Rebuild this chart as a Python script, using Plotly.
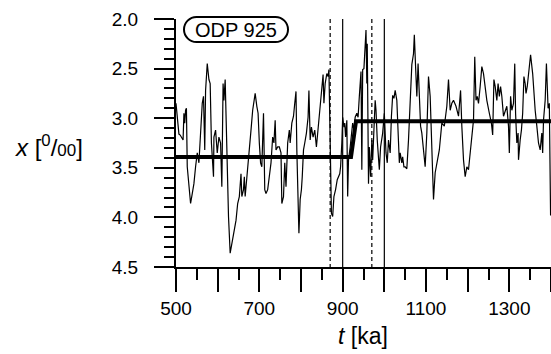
import plotly.graph_objects as go

# ---- data ----
t_ka = [500, 503, 507, 510, 513, 517, 519, 521, 523, 525, 527, 531, 535, 539, 543, 547, 551, 555, 559, 563,
        566, 569, 571, 575, 579, 582, 585, 587, 590, 591, 595, 599, 603, 607, 610, 613, 615, 618, 620, 623,
        626, 630, 635, 639, 644, 648, 652, 656, 658, 662, 664, 666, 670, 673, 676, 680, 684, 688, 690, 694,
        697, 700, 703, 706, 710, 713, 716, 720, 724, 728, 732, 735, 738, 740, 744, 748, 752, 754, 758, 761,
        764, 768, 772, 774, 778, 782, 785, 788, 790, 793, 795, 798, 801, 803, 806, 809, 813, 817, 819, 822,
        825, 829, 833, 837, 841, 845, 849, 853, 855, 858, 862, 865, 867, 870, 871, 873, 876, 879, 883, 887,
        893, 895, 898, 900, 903, 905, 907, 910, 912, 914, 918, 921, 924, 927, 930, 934, 937, 940, 942, 944,
        946, 948, 951, 954, 956, 958, 959, 962, 964, 967, 970, 972, 975, 978, 980, 983, 988, 991, 996, 1000,
        1004, 1007, 1010, 1014, 1017, 1020, 1023, 1026, 1030, 1034, 1036, 1038, 1042, 1044, 1047, 1050, 1054, 1058, 1060, 1063,
        1066, 1070, 1072, 1075, 1078, 1081, 1084, 1087, 1090, 1094, 1098, 1102, 1106, 1110, 1114, 1118, 1122, 1127, 1132, 1138,
        1144, 1150, 1154, 1158, 1162, 1166, 1172, 1178, 1183, 1186, 1190, 1194, 1198, 1202, 1206, 1210, 1214, 1217, 1220, 1223,
        1226, 1230, 1234, 1238, 1241, 1246, 1252, 1257, 1260, 1263, 1266, 1270, 1273, 1276, 1279, 1282, 1286, 1290, 1294, 1298,
        1300, 1303, 1306, 1310, 1313, 1315, 1318, 1321, 1322, 1326, 1329, 1332, 1335, 1338, 1340, 1343, 1348, 1351, 1356, 1359,
        1362, 1366, 1370, 1374, 1378, 1380, 1382, 1386, 1389, 1393, 1396, 1399]

x_permil = [2.85, 2.98, 3.16, 3.17, 3.19, 3.22, 2.95, 3.05, 2.92, 2.90, 3.49, 3.65, 3.86, 3.76, 3.66, 3.49, 3.35, 3.45, 3.12, 2.85,
            2.78, 3.32, 2.72, 2.45, 2.61, 2.65, 3.25, 3.42, 3.59, 3.19, 3.12, 3.35, 3.19, 3.25, 3.69, 2.65, 2.82, 2.61, 2.98, 3.59,
            3.99, 4.36, 4.23, 4.13, 4.03, 3.86, 3.79, 3.56, 3.79, 3.72, 3.59, 3.79, 3.62, 3.45, 3.32, 3.12, 2.92, 2.82, 2.75, 2.88,
            2.95, 3.25, 3.45, 3.49, 2.95, 3.72, 3.76, 3.72, 3.56, 3.45, 3.19, 3.25, 3.02, 3.32, 3.29, 3.29, 3.35, 3.86, 3.79, 3.45,
            3.69, 3.25, 3.12, 3.25, 3.05, 2.98, 2.85, 2.73, 3.32, 3.93, 4.16, 3.82, 3.72, 3.59, 3.32, 3.25, 3.15, 2.99, 2.72, 3.22,
            3.09, 3.19, 3.12, 3.29, 3.09, 2.92, 2.72, 2.56, 2.85, 2.65, 2.55, 2.58, 2.51, 3.35, 3.79, 3.96, 3.99, 3.79, 3.72, 3.62,
            3.56, 3.49, 3.25, 2.99, 3.09, 3.05, 3.19, 3.02, 3.79, 3.42, 3.29, 3.19, 3.05, 3.12, 2.99, 2.95, 2.99, 2.78, 2.61, 2.53,
            3.52, 2.51, 2.50, 2.21, 2.11, 2.65, 2.25, 3.66, 3.29, 3.59, 3.22, 3.42, 3.08, 2.82, 2.92, 3.22, 3.52, 3.29, 3.15, 2.95,
            3.35, 3.45, 3.22, 3.35, 2.98, 2.77, 2.80, 2.72, 2.82, 3.29, 3.45, 3.35, 3.45, 3.39, 3.49, 3.49, 3.51, 3.22, 3.02, 2.61,
            2.46, 2.35, 2.16, 2.48, 2.78, 2.45, 2.82, 3.08, 3.15, 3.29, 3.49, 3.15, 2.58, 2.78, 3.25, 3.82, 3.55, 3.42, 3.32, 3.05,
            3.08, 2.88, 2.61, 2.92, 2.85, 2.82, 2.88, 2.98, 2.72, 3.08, 3.42, 3.59, 3.49, 3.52, 3.35, 3.22, 3.02, 2.38, 2.82, 2.78,
            2.85, 2.68, 2.48, 2.55, 2.68, 2.82, 2.95, 3.05, 3.17, 2.61, 2.68, 2.82, 2.65, 2.78, 2.68, 2.78, 2.98, 2.92, 2.88, 3.08,
            3.35, 2.78, 2.92, 2.85, 2.45, 2.95, 3.25, 3.15, 3.42, 3.22, 3.12, 2.95, 2.58, 2.65, 2.75, 2.68, 2.51, 2.36, 2.55, 2.75,
            2.92, 3.08, 3.25, 3.32, 3.15, 3.35, 3.02, 2.82, 2.45, 2.90, 2.85, 3.98]

# mean levels (thick step line)
mean_t = [500, 920, 932, 1400]
mean_x = [3.39, 3.39, 3.03, 3.03]

# vertical marker lines
dashed_t = [870, 970]
solid_t = [900, 1000]

x_tickvals = [500, 600, 700, 800, 900, 1000, 1100, 1200, 1300, 1400]
x_ticktext = ["500", "", "700", "", "900", "", "1100", "", "1300", ""]
y_tickvals = [2.0, 2.5, 3.0, 3.5, 4.0, 4.5]
y_ticktext = ["2.0", "2.5", "3.0", "3.5", "4.0", "4.5"]

label_text = "ODP 925"

# ---- layout geometry (pixels) ----
W, H = 551, 354
L, R, T, B = 176, 0, 19, 87
PW, PH = W - L - R, H - T - B
FONT = "Liberation Sans, Arial, Helvetica, sans-serif"


def px2paper(px, py):
    return (px - L) / PW, (T + PH - py) / PH


fig = go.Figure()

fig.add_trace(go.Scatter(x=t_ka, y=x_permil, mode="lines",
                         line=dict(color="black", width=1.2), hoverinfo="skip"))
fig.add_trace(go.Scatter(x=mean_t, y=mean_x, mode="lines",
                         line=dict(color="black", width=4), hoverinfo="skip"))

shapes = []
for tv in dashed_t:
    shapes.append(dict(type="line", xref="x", yref="y", x0=tv, x1=tv, y0=2.0, y1=4.5,
                       line=dict(color="black", width=1.2, dash="4px,3px")))
for tv in solid_t:
    shapes.append(dict(type="line", xref="x", yref="y", x0=tv, x1=tv, y0=2.0, y1=4.5,
                       line=dict(color="black", width=1.2)))

# rounded label box
bx0, bx1, by0, by1 = 184, 288, 17, 42
r = (by1 - by0) / 2
cy = (by0 + by1) / 2
k = 0.5523 * r
pts = [
    ("M", [(bx0 + r, by0)]),
    ("L", [(bx1 - r, by0)]),
    ("C", [(bx1 - r + k, by0), (bx1, cy - k), (bx1, cy)]),
    ("C", [(bx1, cy + k), (bx1 - r + k, by1), (bx1 - r, by1)]),
    ("L", [(bx0 + r, by1)]),
    ("C", [(bx0 + r - k, by1), (bx0, cy + k), (bx0, cy)]),
    ("C", [(bx0, cy - k), (bx0 + r - k, by0), (bx0 + r, by0)]),
]
path = ""
for cmd, plist in pts:
    coords = []
    for (a, b) in plist:
        u, v = px2paper(a, b)
        coords.append(f"{u:.5f},{v:.5f}")
    path += cmd + " ".join(coords) + " "
path += "Z"
shapes.append(dict(type="path", xref="paper", yref="paper", path=path,
                   line=dict(color="black", width=2), fillcolor="white", layer="above"))

annotations = []
lx, ly = px2paper((bx0 + bx1) / 2, cy + 0.5)
annotations.append(dict(x=lx, y=ly, xref="paper", yref="paper", text=label_text,
                        showarrow=False, xanchor="center", yanchor="middle",
                        font=dict(family=FONT, size=20, color="black")))
ax, ay = px2paper(49, 146)
annotations.append(dict(x=ax, y=ay, xref="paper", yref="paper",
                        text="<i>x</i> [<sup>0</sup>/<span style='font-size:17px'>00</span>]",
                        showarrow=False, xanchor="center", yanchor="middle",
                        font=dict(family=FONT, size=24, color="black")))
tx, ty = px2paper(363, 336)
annotations.append(dict(x=tx, y=ty, xref="paper", yref="paper",
                        text="<i>t</i> [ka]",
                        showarrow=False, xanchor="center", yanchor="middle",
                        font=dict(family=FONT, size=23, color="black")))

fig.update_layout(
    width=W, height=H,
    margin=dict(l=L, r=R, t=T, b=B, pad=0, autoexpand=False),
    paper_bgcolor="white", plot_bgcolor="white",
    showlegend=False,
    shapes=shapes, annotations=annotations,
    xaxis=dict(range=[500, 1400], tickmode="array", tickvals=x_tickvals, ticktext=x_ticktext,
               ticks="outside", ticklen=23, tickwidth=2, tickcolor="black",
               showline=True, linewidth=2, linecolor="black", showgrid=False, zeroline=False,
               ticklabelstandoff=0,
               tickfont=dict(family=FONT, size=19, color="black"),
               minor=dict(dtick=50, tick0=500, ticks="outside", ticklen=11, tickwidth=2,
                          tickcolor="black", showgrid=False)),
    yaxis=dict(range=[4.5, 2.0], tickmode="array", tickvals=y_tickvals, ticktext=y_ticktext,
               ticks="outside", ticklen=20, tickwidth=2, tickcolor="black",
               showline=True, linewidth=2, linecolor="black", showgrid=False, zeroline=False,
               ticklabelstandoff=12,
               tickfont=dict(family=FONT, size=19, color="black"),
               minor=dict(dtick=0.1, tick0=2.0, ticks="outside", ticklen=10, tickwidth=2,
                          tickcolor="black", showgrid=False)),
)

fig.write_html("out.html", config={"displayModeBar": False},
               post_script="document.body.style.margin='0';")
